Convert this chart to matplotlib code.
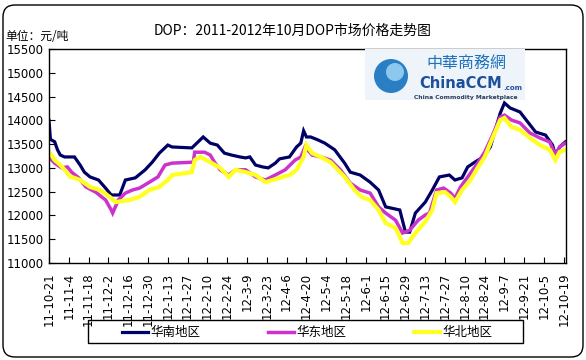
import matplotlib
matplotlib.use("Agg")
import matplotlib.pyplot as plt
from matplotlib.patches import FancyBboxPatch, Rectangle, Circle
from matplotlib.lines import Line2D

CJK = ["Noto Sans CJK SC", "DejaVu Sans"]

# days since 2011-10-21, prices in 元/吨
south_day = [0, 1, 4, 6, 8, 11, 18, 22, 25, 29, 35, 40, 44, 50, 54, 61, 68, 73, 78, 84, 87,
             101, 109, 114, 119, 124, 129, 135, 139, 142, 146, 151, 155, 160, 163, 170, 175,
             178, 180, 182, 185, 190, 195, 202, 209, 213, 220, 227, 233, 238, 248, 252, 255,
             259, 266, 271, 276, 283, 287, 292, 296, 301, 307, 312, 319, 322, 326, 333, 339,
             344, 351, 356, 358, 361, 365]
south_val = [14000, 13600, 13550, 13380, 13270, 13230, 13230, 13060, 12910, 12810, 12745, 12575,
             12430, 12430, 12745, 12790, 12960, 13120, 13310, 13480, 13440, 13420, 13650, 13520,
             13480, 13310, 13270, 13230, 13210, 13230, 13060, 13020, 13000, 13100, 13190, 13230,
             13440, 13520, 13780, 13650, 13650, 13590, 13520, 13380, 13100, 12910, 12850, 12700,
             12535, 12180, 12115, 11650, 11650, 12050, 12280, 12535, 12810, 12850, 12745, 12790,
             13020, 13120, 13230, 13440, 14150, 14365, 14260, 14175, 13945, 13755, 13690, 13480,
             13270, 13440, 13545]

east_day = [0, 4, 9, 13, 16, 21, 26, 33, 40, 44, 45, 49, 54, 59, 64, 71, 77, 82, 87, 102, 103,
            110, 114, 117, 121, 127, 132, 139, 146, 153, 160, 167, 174, 178, 181, 186, 192, 199,
            206, 213, 220, 227, 233, 238, 245, 250, 255, 261, 266, 269, 274, 279, 284, 287, 291,
            298, 303, 308, 313, 319, 322, 327, 333, 340, 347, 354, 358, 361, 365]
east_val = [13230, 13100, 13000, 13020, 12910, 12790, 12600, 12490, 12325, 12115, 12050, 12325,
            12470, 12535, 12575, 12700, 12810, 13060, 13100, 13120, 13330, 13330, 13270, 13120,
            12960, 12850, 12960, 12960, 12810, 12745, 12850, 12960, 13165, 13230, 13440, 13270,
            13230, 13165, 12960, 12680, 12535, 12470, 12180, 12050, 11900, 11630, 11690, 11900,
            12010, 12050, 12535, 12575, 12470, 12365, 12600, 12890, 13100, 13330, 13650, 14070,
            14110, 14005, 13945, 13735, 13630, 13545, 13270, 13440, 13520]

north_day = [0, 4, 8, 11, 15, 18, 22, 29, 36, 43, 47, 57, 64, 71, 78, 84, 87, 101, 103, 107,
             114, 121, 127, 132, 139, 146, 153, 163, 170, 175, 180, 182, 186, 192, 199, 209, 216,
             221, 227, 233, 238, 245, 250, 254, 257, 262, 266, 271, 274, 280, 284, 287, 292, 298,
             303, 308, 313, 319, 322, 327, 333, 340, 347, 354, 358, 361, 365]
north_val = [13335, 13165, 13060, 12960, 12810, 12790, 12745, 12600, 12535, 12390, 12280, 12325,
             12390, 12535, 12600, 12745, 12850, 12910, 13165, 13230, 13120, 13000, 12810, 12960,
             12910, 12850, 12700, 12790, 12850, 12960, 13230, 13480, 13310, 13230, 13120, 12810,
             12535, 12390, 12325, 12115, 11840, 11735, 11420, 11420, 11550, 11735, 11870, 12115,
             12470, 12490, 12390, 12280, 12535, 12745, 13000, 13230, 13590, 14005, 14050, 13860,
             13800, 13630, 13480, 13380, 13165, 13335, 13380]

tick_labels = ["11-10-21", "11-11-4", "11-11-18", "11-12-2", "11-12-16", "11-12-30",
               "12-1-13", "12-1-27", "12-2-10", "12-2-24", "12-3-9", "12-3-23", "12-4-6",
               "12-4-20", "12-5-4", "12-5-18", "12-6-1", "12-6-15", "12-6-29", "12-7-13",
               "12-7-27", "12-8-10", "12-8-24", "12-9-7", "12-9-21", "12-10-5", "12-10-19"]
series_names = ["华南地区", "华东地区", "华北地区"]
colors = ["#000066", "#CC33CC", "#FFFF22"]
widths = [2.3, 2.5, 3.0]

W, H = 586, 360


def px(x, y):
    return x / W, 1 - y / H


def inch(x, y):
    return x / 100, (H - y) / 100


fig = plt.figure(figsize=(W / 100, H / 100), dpi=100)
fig.patch.set_facecolor("white")

# rounded outer border
fig.patches.append(FancyBboxPatch((0.03, 0.03), 5.80, 3.52,
                                  boxstyle="round,pad=0,rounding_size=0.12",
                                  transform=fig.dpi_scale_trans, fill=False,
                                  edgecolor="black", lw=1.0))

ax = fig.add_axes([49 / W, 1 - 263 / H, (566 - 49) / W, (263 - 49) / H])
for d, v, c, lw in zip([south_day, east_day, north_day], [south_val, east_val, north_val],
                       colors, widths):
    ax.plot(d, v, color=c, lw=lw, solid_joinstyle="miter")

ax.set_xlim(0, 365.5)
ax.set_ylim(11000, 15500)
ax.set_yticks(range(11000, 15501, 500))
ax.set_xticks(range(0, 14 * len(tick_labels), 14))
ax.set_xticklabels(tick_labels, rotation=90)
ax.tick_params(axis="y", direction="in", length=4, pad=4, labelsize=8.5, left=True)
ax.tick_params(axis="x", direction="in", length=4, pad=7, labelsize=8.5)
for s in ax.spines.values():
    s.set_color("black"); s.set_linewidth(1.0)

fig.text(*px(293, 31), "DOP：2011-2012年10月DOP市场价格走势图", ha="center", va="center",
         fontsize=10, family=CJK)
fig.text(*px(5, 36), "单位：元/吨", ha="left", va="center", fontsize=8.5, family=CJK)

# logo
fig.patches.append(Rectangle(px(365, 100), 160 / W, 51 / H, transform=fig.transFigure,
                             facecolor="#eef4f9", edgecolor="none", zorder=5))
fig.patches.append(Circle(inch(391, 76), 0.17, transform=fig.dpi_scale_trans,
                          facecolor="#2a7fc4", edgecolor="none", zorder=6))
fig.patches.append(Circle(inch(395, 72), 0.09, transform=fig.dpi_scale_trans,
                          facecolor="#8cc8ee", edgecolor="none", zorder=6))
fig.text(*px(466, 63), "中華商務網", ha="center", va="center", fontsize=11.5,
         color="#1f72bd", family=["Noto Sans CJK TC", "DejaVu Sans"], zorder=7)
ccm = fig.text(*px(419, 84), "ChinaCCM", ha="left", va="center", fontsize=10.5,
               weight="bold", color="#1c4f9c", zorder=7)
fig.text(*px(466, 97), "China Commodity Marketplace", ha="center", va="center", fontsize=4.3,
         weight="bold", color="#2a3a5a", zorder=7)
fig.canvas.draw()
bb = ccm.get_window_extent()
fig.text((bb.x1 + 1) / W, (bb.y0 + 1) / H, ".com", ha="left", va="bottom", fontsize=5,
         weight="bold", color="#1c4f9c", zorder=7)

# legend: frame drawn separately, entries spread across it
fig.patches.append(Rectangle(px(88, 343), (523 - 88) / W, 23 / H, transform=fig.transFigure,
                             fill=False, edgecolor="black", lw=1.0))
handles = [Line2D([], [], color=c, lw=lw) for c, lw in zip(colors, widths)]
x0, y0 = px(118, 343)
x1, y1 = px(496, 320)
fig.legend(handles, series_names, ncol=3, mode="expand", loc="lower left",
           bbox_to_anchor=(x0, y0, x1 - x0, y1 - y0), frameon=False,
           prop={"family": CJK, "size": 9}, handlelength=2.1, handletextpad=0.2,
           borderpad=0.3, borderaxespad=0)

fig.savefig("out.png", dpi=100)
